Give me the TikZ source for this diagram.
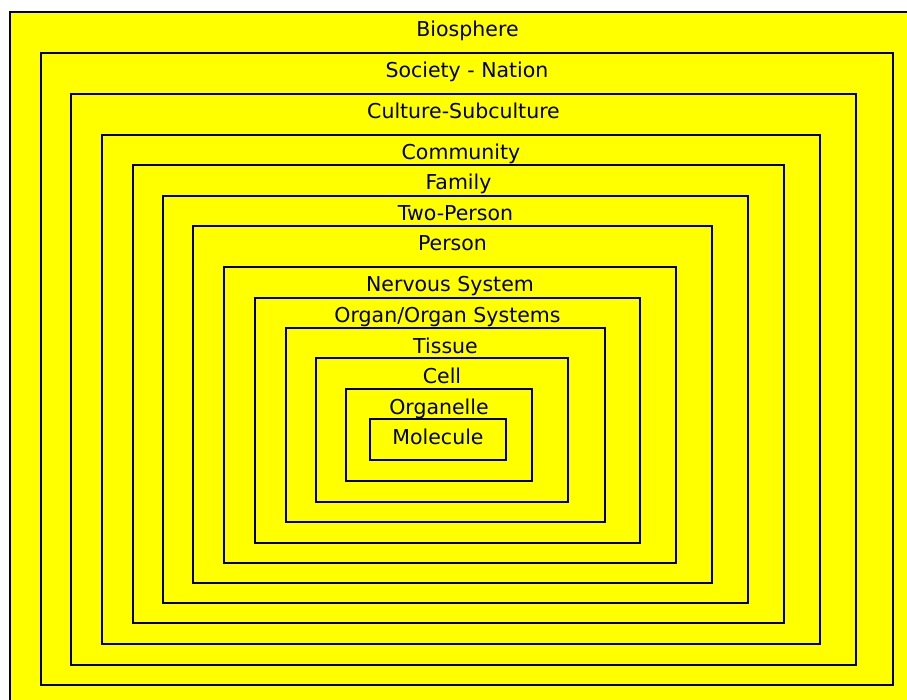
\documentclass[tikz,border=0pt]{standalone}
\usepackage{fontspec}
\setmainfont{DejaVu Sans}
\definecolor{levelyellow}{HTML}{FFFF00}
\begin{document}
\begin{tikzpicture}[x=1pt,y=-1pt,
    level/.style={draw=black, line width=1.5pt, fill=levelyellow},
    lbl/.style={anchor=base, inner sep=0pt, font=\fontsize{20.5}{24}\selectfont}]
  \clip (0,0) rectangle (907,700);
  \fill[white] (0,0) rectangle (907,700);
  % nested levels: left/top/right/bottom/name/label
  \foreach \l/\t/\r/\b/\name/\txt in {
      10/12/925/720/bio/Biosphere,
      41/53/893/685/soc/Society - Nation,
      71/94/856/665/cul/Culture-Subculture,
      102/135/820/644/com/Community,
      133/165/784/623/fam/Family,
      163/196/748/603/two/Two-Person,
      193/226/712/583/per/Person,
      224/267/676/563/ner/Nervous System,
      255/298/640/543/org/{Organ/Organ Systems},
      286/328/605/522/tis/Tissue,
      316/358/568/502/cel/Cell,
      346/389/532/481/ogl/Organelle,
      370/419/506/460/mol/Molecule}
  {
    \draw[level] (\l,\t) rectangle (\r,\b);
    \node[lbl] (\name) at ({(\l+\r)/2},\t+25) {\txt};
  }
\end{tikzpicture}
\end{document}
